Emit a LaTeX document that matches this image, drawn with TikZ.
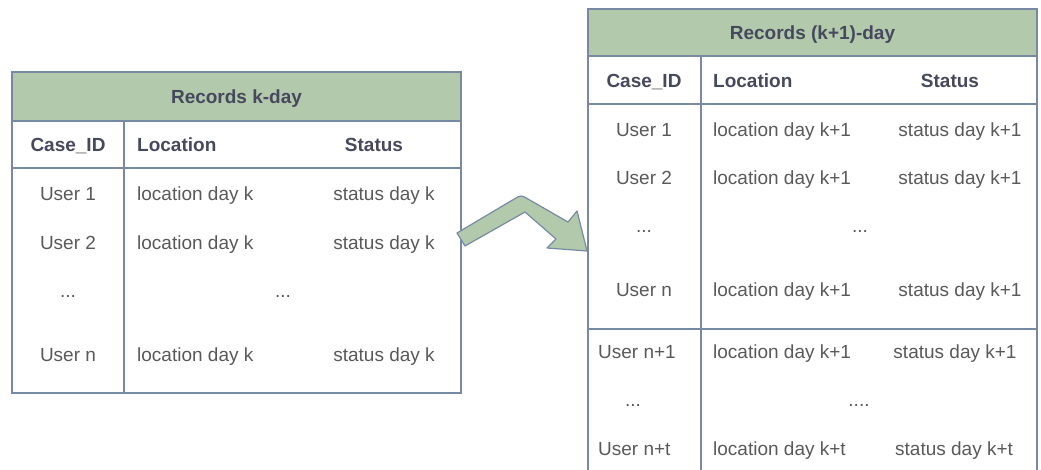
\documentclass[tikz,border=0pt]{standalone}
\usepackage{fontspec}
\setmainfont{Liberation Sans}
\usetikzlibrary{calc}
\definecolor{hdrfill}{HTML}{B2C9AB}
\definecolor{rule}{HTML}{788AA3}
\definecolor{hdrtext}{HTML}{46495D}
\definecolor{celltext}{HTML}{595959}
\tikzset{
  grid/.style={draw=rule, line width=1.8pt},
  title/.style={font=\fontsize{19}{22}\selectfont\bfseries, text=hdrtext, inner sep=0pt, anchor=base},
  colhead/.style={font=\fontsize{19}{22}\selectfont\bfseries, text=hdrtext, inner sep=0pt, anchor=base},
  cell/.style={font=\fontsize{19}{22}\selectfont, text=celltext, inner sep=0pt, anchor=base},
  lft/.style={anchor=base west},
  blockarrow/.style={fill=hdrfill, draw=rule, line width=1.2pt, line join=round}
}
\begin{document}
\begin{tikzpicture}[x=1pt,y=-1pt]
\useasboundingbox (0,0) rectangle (1041,470);

% ---- table for day k ----
\fill[hdrfill] (12,72) rectangle (461,121);
\draw[grid] (12,72) rectangle (461,393);
\draw[grid] (12,121) -- (461,121);
\draw[grid] (12,168) -- (461,168);
\draw[grid] (124,121) -- (124,393);

% text rows are given by their baselines
\node[title] (lt) at (236.5,104) {Records k-day};
\node[colhead] (lh1) at (68,152) {Case\_ID};
\node[colhead, lft] (lh2) at (137,152) {Location};
\node[colhead] (lh3) at (374,152) {Status};

\node[cell] (la1) at (68,201) {User 1};
\node[cell, lft] (lb1) at (137,201) {location day k};
\node[cell] (lc1) at (384,201) {status day k};
\node[cell] (la2) at (68,250) {User 2};
\node[cell, lft] (lb2) at (137,250) {location day k};
\node[cell] (lc2) at (384,250) {status day k};
\node[cell] (la3) at (68,298) {...};
\node[cell] (lb3) at (283,298) {...};
\node[cell] (la4) at (68,361) {User n};
\node[cell, lft] (lb4) at (137,361) {location day k};
\node[cell] (lc4) at (384,361) {status day k};

% ---- table for day k+1 ----
\fill[hdrfill] (588,9) rectangle (1037,56);
\draw[grid] (588,470) -- (588,9) -- (1037,9) -- (1037,470);
\draw[grid] (588,56) -- (1037,56);
\draw[grid] (588,104) -- (1037,104);
\draw[grid] (588,329) -- (1037,329);
\draw[grid] (701,56) -- (701,470);

\node[title] (rt) at (812.5,40) {Records (k+1)-day};
\node[colhead] (rh1) at (644,88) {Case\_ID};
\node[colhead, lft] (rh2) at (713,88) {Location};
\node[colhead] (rh3) at (950,88) {Status};

\node[cell] (ra1) at (644,137) {User 1};
\node[cell, lft] (rb1) at (713,137) {location day k+1};
\node[cell] (rc1) at (960,137) {status day k+1};
\node[cell] (ra2) at (644,185) {User 2};
\node[cell, lft] (rb2) at (713,185) {location day k+1};
\node[cell] (rc2) at (960,185) {status day k+1};
\node[cell] (ra3) at (644,233) {...};
\node[cell] (rb3) at (860,233) {...};
\node[cell] (ra4) at (644,296) {User n};
\node[cell, lft] (rb4) at (713,296) {location day k+1};
\node[cell] (rc4) at (960,296) {status day k+1};

\node[cell, lft] (ra5) at (598,358) {User n+1};
\node[cell, lft] (rb5) at (713,358) {location day k+1};
\node[cell] (rc5) at (955,358) {status day k+1};
\node[cell] (ra6) at (633,406) {...};
\node[cell] (rb6) at (859,406) {....};
\node[cell, lft] (ra7) at (598,455) {User n+t};
\node[cell, lft] (rb7) at (713,455) {location day k+t};
\node[cell, lft] (rc7) at (895,455) {status day k+t};

% ---- bent block arrow between the tables ----
\coordinate (arrA) at (457,233);
\coordinate (arrB) at (521,195);
\coordinate (arrC) at (568,222);
\coordinate (arrD) at (577,211);
\coordinate (arrTip) at (587,251);
\coordinate (arrE) at (547,248);
\coordinate (arrF) at (556,239);
\coordinate (arrG) at (525,212);
\coordinate (arrH) at (465,246);
\draw[blockarrow] (arrA) -- ($(arrB)!8pt!(arrA)$) .. controls (arrB) .. ($(arrB)!8pt!(arrC)$)
  -- (arrC) -- (arrD) -- (arrTip) -- (arrE) -- (arrF) -- (arrG) -- (arrH) -- cycle;
\end{tikzpicture}
\end{document}
